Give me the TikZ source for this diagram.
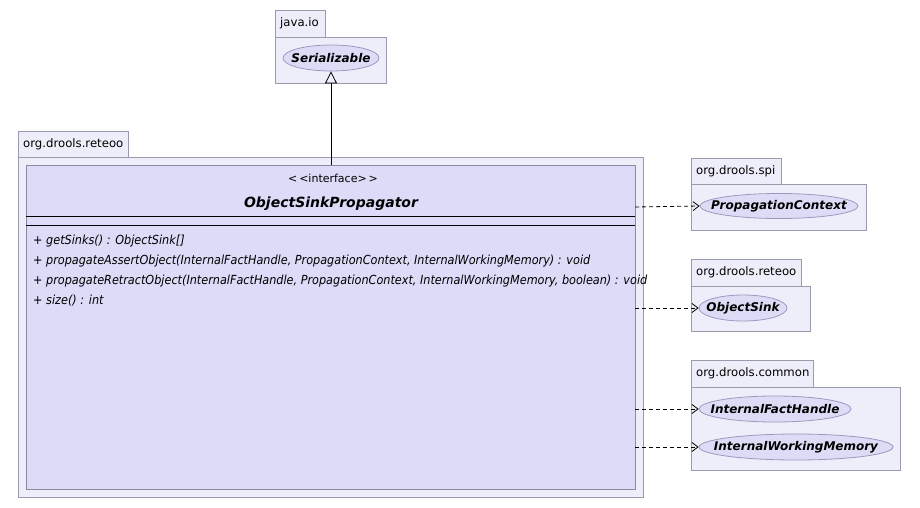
\documentclass[tikz,border=0pt]{standalone}
\usepackage{fontspec}
\setmainfont{DejaVu Sans}
\newfontfamily\condfont{DejaVu Sans Condensed}
\usetikzlibrary{arrows.meta,shapes.geometric}
\definecolor{pkgfill}{HTML}{EEEEFA}
\definecolor{pkgline}{HTML}{9A9AAE}
\definecolor{clsfill}{HTML}{DCDCF8}
\definecolor{clsline}{HTML}{8A8AA0}
\definecolor{ellfill}{HTML}{DCDCF6}
\definecolor{ellline}{HTML}{9A9AC0}
\newcommand{\ifcname}[1]{\makebox[0pt]{#1}}
\tikzset{
  x=1pt, y=-1pt,
  pkgbox/.style={draw=pkgline, fill=pkgfill, line width=0.8pt},
  pkglabel/.style={font=\fontsize{11.7}{13}\selectfont, anchor=west, inner sep=0pt},
  ifc/.style={ellipse, draw=ellline, fill=ellfill, line width=0.8pt, inner sep=0pt,
    font=\fontsize{12}{14}\selectfont\bfseries\itshape},
  method/.style={anchor=west, inner sep=0pt, font=\condfont\fontsize{12.5}{14}\selectfont\itshape},
  dep/.style={dashed, dash pattern=on 4pt off 3pt, line width=0.8pt, -{Straight Barb[length=6pt,width=9pt]}},
  realize/.style={line width=0.8pt, -{Triangle[open,length=12pt,width=12pt]}}
}
\begin{document}
\begin{tikzpicture}
\fill[white] (0,0) rectangle (920,508);
\useasboundingbox (0,0) rectangle (920,508);

% package java.io
\draw[pkgbox] (275,10) rectangle (325,37);
\draw[pkgbox] (275,37) rectangle (386,83);
\node[pkglabel] (pio) at (280,23) {java.io};
\node[ifc, minimum width=96pt, minimum height=26pt] (ser) at (331,58) {\ifcname{Serializable}};

% package org.drools.reteoo (main)
\draw[pkgbox] (18,131) rectangle (128,157);
\draw[pkgbox] (18,157) rectangle (643,497);
\node[pkglabel] (preteoo) at (23,144) {org.drools.reteoo};

% interface ObjectSinkPropagator
\draw[draw=clsline, fill=clsfill, line width=0.8pt] (26,165) rectangle (635,489);
\coordinate (osptop) at (331,165);
\node[inner sep=0pt, font=\fontsize{11}{13}\selectfont] (stereo) at (333,178) {<\,<interface>\,>};
\node[inner sep=0pt, font=\fontsize{14}{16}\selectfont\bfseries\itshape] (ospname) at (331,204) {ObjectSinkPropagator};
\draw[line width=0.9pt] (26,216) -- (635,216);
\draw[line width=0.9pt] (26,225) -- (635,225);
\node[method] (m1) at (33,241) {+ getSinks() : ObjectSink[]};
\node[method] (m2) at (33,261) {+ propagateAssertObject(InternalFactHandle, PropagationContext, InternalWorkingMemory) : void};
\node[method] (m3) at (33,281) {+ propagateRetractObject(InternalFactHandle, PropagationContext, InternalWorkingMemory, boolean) : void};
\node[method] (m4) at (33,301) {+ size() : int};

% package org.drools.spi
\draw[pkgbox] (691,158) rectangle (781,184);
\draw[pkgbox] (691,184) rectangle (866,230);
\node[pkglabel] (pspi) at (696,171) {org.drools.spi};
\node[ifc, minimum width=158pt, minimum height=25pt] (pc) at (779,206) {\ifcname{PropagationContext}};

% package org.drools.reteoo (second)
\draw[pkgbox] (691,259) rectangle (801,286);
\draw[pkgbox] (691,286) rectangle (810,331);
\node[pkglabel] (preteoo2) at (696,272) {org.drools.reteoo};
\node[ifc, minimum width=88pt, minimum height=26pt] (os) at (743,308) {\ifcname{ObjectSink}};

% package org.drools.common
\draw[pkgbox] (691,360) rectangle (813,387);
\draw[pkgbox] (691,387) rectangle (900,470);
\node[pkglabel] (pcommon) at (696,373) {org.drools.common};
\node[ifc, minimum width=152pt, minimum height=26pt] (ifh) at (775,409) {\ifcname{InternalFactHandle}};
\node[ifc, minimum width=194pt, minimum height=26pt] (iwm) at (796,447) {\ifcname{InternalWorkingMemory}};

% connectors
\draw[realize] (osptop) -- (ser.south);
\coordinate (d1) at (635,207);
\coordinate (d2) at (635,308);
\coordinate (d3) at (635,409);
\coordinate (d4) at (635,447);
\draw[dep] (d1) -- (pc.west);
\draw[dep] (d2) -- (os.west);
\draw[dep] (d3) -- (ifh.west);
\draw[dep] (d4) -- (iwm.west);
\end{tikzpicture}
\end{document}
